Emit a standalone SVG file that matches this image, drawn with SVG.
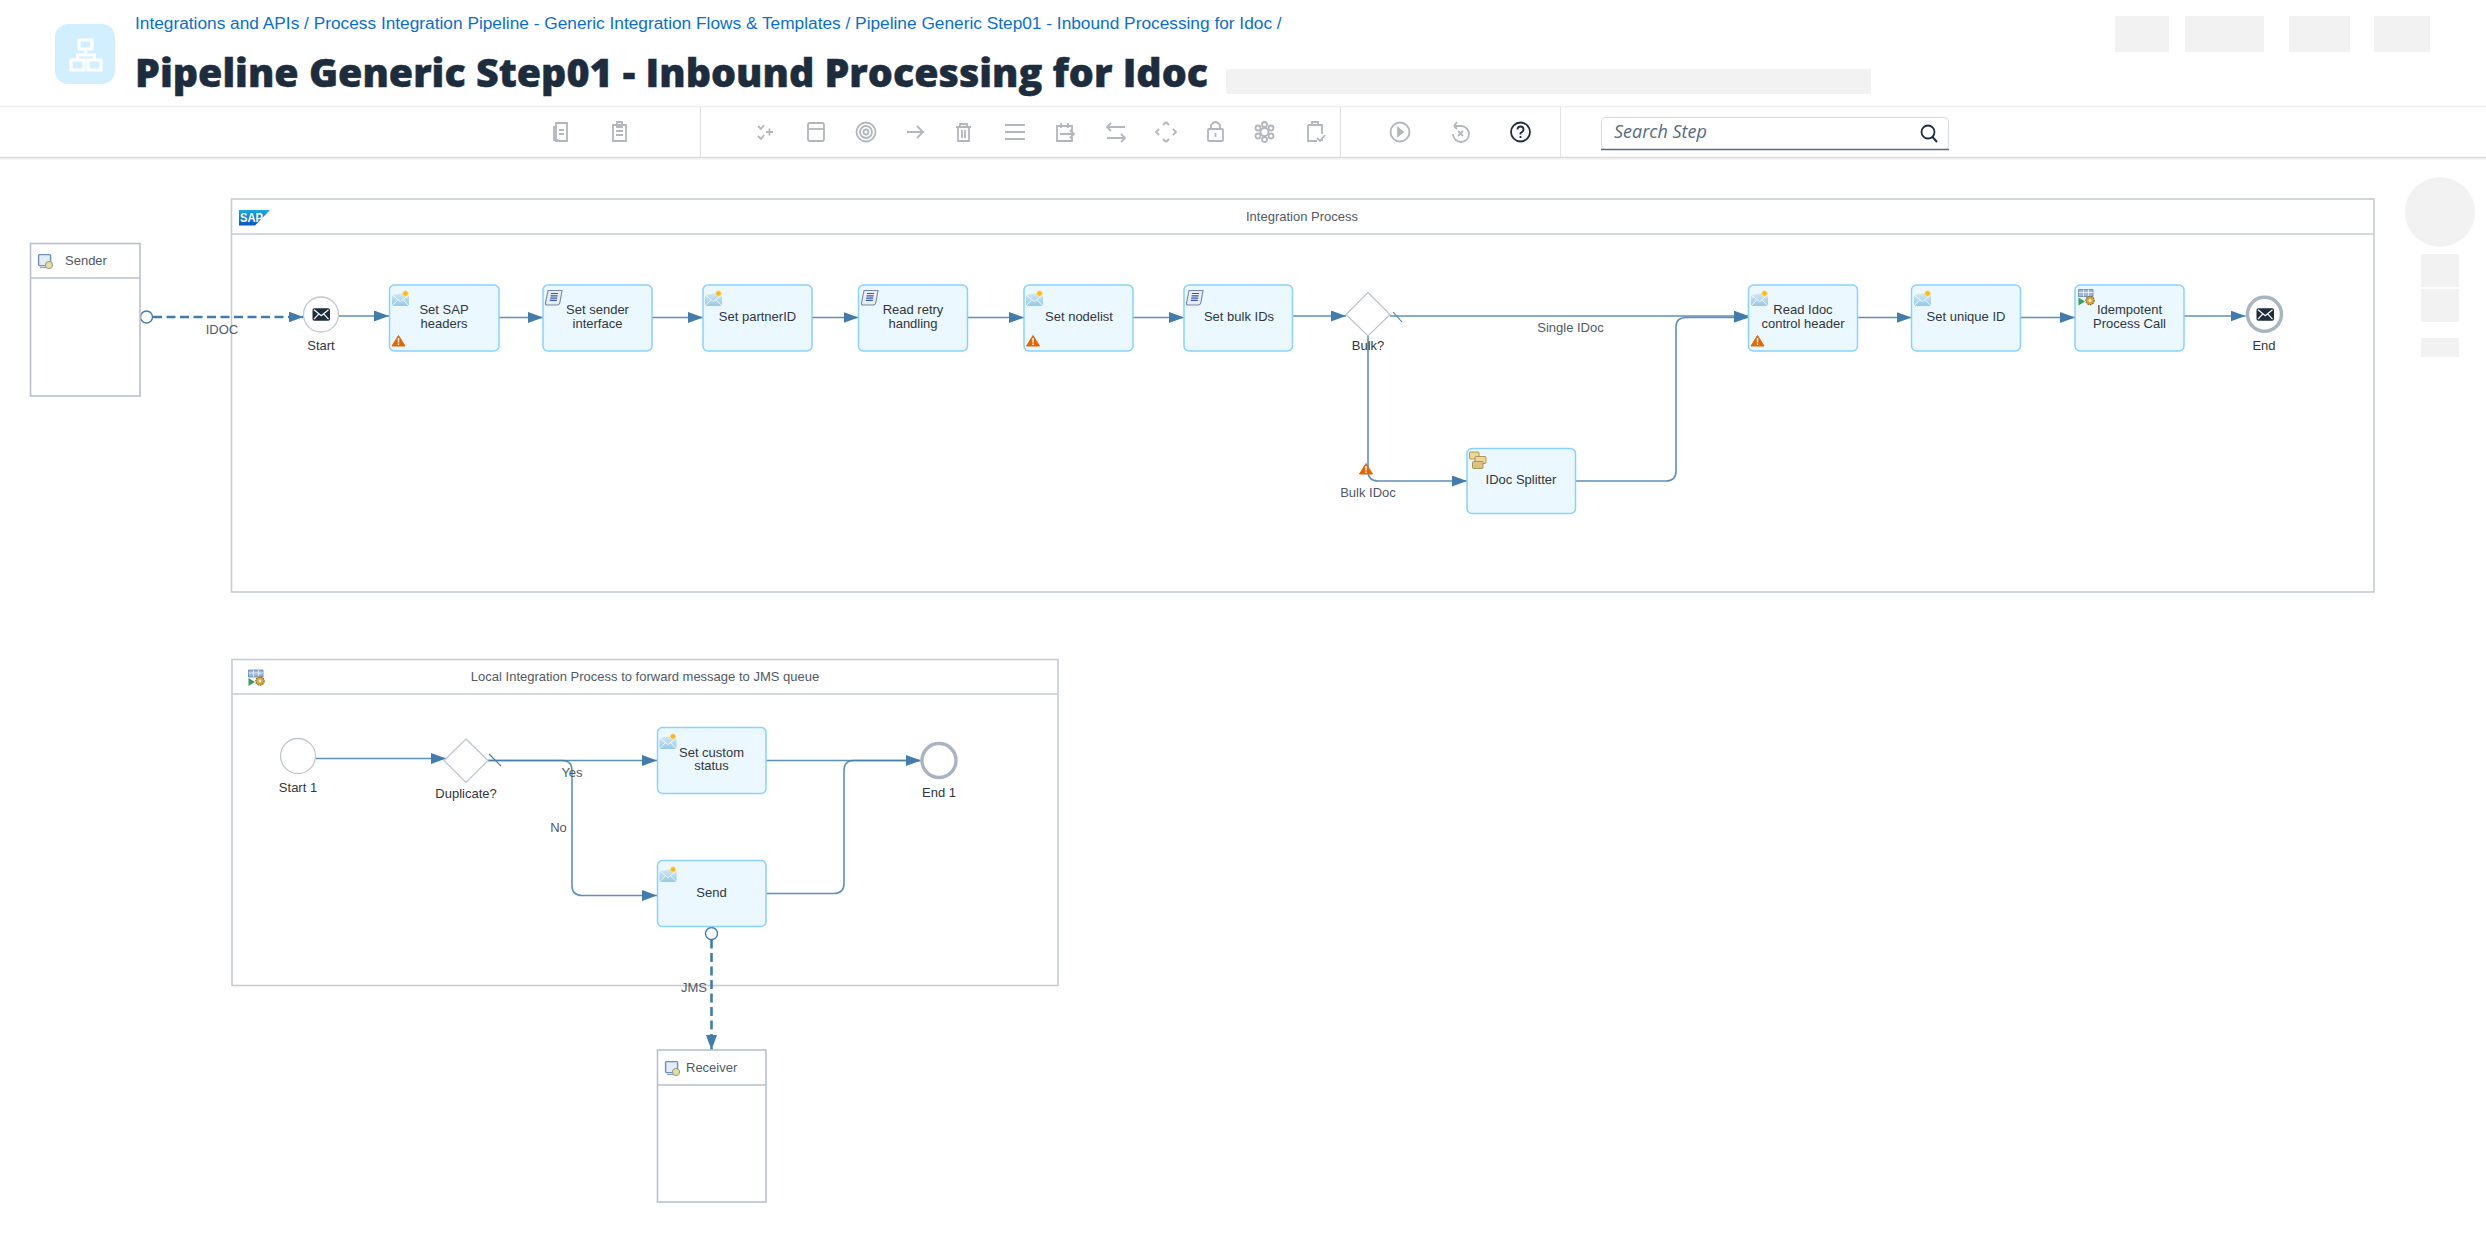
<svg xmlns="http://www.w3.org/2000/svg" width="2486" height="1240" viewBox="0 0 2486 1240">
<style>
text{font-family:"Liberation Sans",Arial,sans-serif;fill:#32363a;font-size:13px}
.m{text-anchor:middle}
.hd{fill:#4f5a65}
.lb{fill:#4f5a65}
.crumb{fill:#0a6ed1;font-size:17.3px}
.title{font-family:"Open Sans","Liberation Sans",sans-serif;font-weight:800;font-size:39.4px;fill:#1d2d3e;stroke:#1d2d3e;stroke-width:.5px}
.ph{fill:#f2f2f2}
.pool{fill:#fff;stroke:#c6ccd3;stroke-width:1.6}
.part{fill:#fff;stroke:#b8c1cb;stroke-width:1.6}
.task{fill:#ebf8ff;stroke:#89d1ff;stroke-width:1.5}
.flow{fill:none;stroke:#427cac;stroke-opacity:.85;stroke-width:1.6;marker-end:url(#arr)}
.plain{fill:none;stroke:#427cac;stroke-width:1.1}
.msg{fill:none;stroke:#427cac;stroke-width:2.6;stroke-dasharray:9 4.5;marker-end:url(#arr)}
.port{fill:#fff;stroke:#427cac;stroke-width:1.4}
.gw{fill:#fff;stroke:#bcc3ca;stroke-width:1.2}
.ev{fill:#fff;stroke:#c0c7ce;stroke-width:1.3}
.evend{fill:#fff;stroke:#a9b4be;stroke-width:3.4}
.tb{fill:none;stroke:#b2b7bc;stroke-width:1.8}
.sep{stroke:#dfe1e3;stroke-width:1}
</style>
<defs>
<marker id="arr" markerUnits="userSpaceOnUse" markerWidth="16" markerHeight="12" refX="15" refY="5.5" orient="auto"><path d="M0 0L15 5.5L0 11Z" fill="#427cac"/></marker>
<linearGradient id="envg" x1="0" y1="0" x2="0" y2="1"><stop offset="0" stop-color="#d4eaf8"/><stop offset="1" stop-color="#97c9e6"/></linearGradient>
<linearGradient id="sapg" x1="0" y1="0" x2="0" y2="1"><stop offset="0" stop-color="#18a9e8"/><stop offset="1" stop-color="#0a56b8"/></linearGradient>
<g id="i-env"><path d="M0 6L15 3.500L17 6V17H0Z" fill="url(#envg)"/><path d="M0 6L8.500 12.500L17 6M0 17L6 10.500M17 17L11 10.500" fill="none" stroke="#f2f9fd" stroke-width="1"/><circle cx="13.500" cy="4.500" r="2.800" fill="#fdb813" stroke="#f9e6a4" stroke-width="1"/></g>
<g id="i-script"><path d="M3 1.500H17L15 13Q14.500 16 12 16H2Q0 16 .6 13.500L3 1.500Z" fill="#e8edf5" stroke="#7488ac" stroke-width="1.100"/><path d="M6 4.500H13M5.600 6.800H12.600M5.200 9.100H12.200M4.800 11.400H11.800" stroke="#3658a6" stroke-width="1.200"/></g>
<g id="i-warn"><path d="M6.500 .5L13 11H0Z" fill="#e76500" stroke="#e76500" stroke-linejoin="round"/><path d="M6.500 3V7.500M6.500 8.600V10" stroke="#fff" stroke-width="1.500"/></g>
<g id="i-call"><path d="M0 0H14.500V7H0Z" fill="#9db8dc" stroke="#4f74ad" stroke-width=".7"/><path d="M0 3H14.500M5 0V7M10 0V7" stroke="#fff" stroke-width=".7"/><path d="M0 8L6.500 12L0 16Z" fill="#3c9a5f"/><circle cx="11.500" cy="11" r="4.200" fill="#d9a441" stroke="#8d6a20" stroke-width="1.200" stroke-dasharray="1.600 .9"/><circle cx="11.500" cy="11" r="1.400" fill="#fff6d8"/></g>
<g id="i-split"><rect x=".5" y=".5" width="9.500" height="7" rx="1" fill="#ecd795" stroke="#a68f4f" stroke-width=".9"/><rect x="6" y="5" width="11" height="7" rx="1" fill="#ecd795" stroke="#a68f4f" stroke-width=".9"/><rect x="3.500" y="10" width="10.500" height="7" rx="1" fill="#dcc27c" stroke="#a68f4f" stroke-width=".9"/></g>
<g id="i-part"><rect x=".6" y=".6" width="12" height="11" rx="1" fill="#e4ecf5" stroke="#6d8fb8" stroke-width="1.400"/><path d="M2 13.500H9" stroke="#8aa3bf" stroke-width="1.200"/><circle cx="11" cy="11" r="3.600" fill="#e9e08c" stroke="#8a9aa8" stroke-width="1"/></g>
<g id="i-mail"><rect x="0" y="0" width="17.500" height="12.500" rx="1.800" fill="#1d2d3e"/><path d="M1.500 1.500L8.750 7.500L16 1.500M1.500 11L6.300 5.700M16 11L11.200 5.700" fill="none" stroke="#fff" stroke-width="1.200"/></g>
</defs>
<rect width="2486" height="1240" fill="#fff"/>

<g id="header">
<rect x="55" y="24" width="60" height="60" rx="13" fill="#d1efff"/>
<path d="M79 40H92V49H79ZM71 60H84V70H71ZM88 60H101V70H88Z" fill="none" stroke="#fff" stroke-width="3.200"/>
<path d="M85.500 49V55M77.500 60V55H94.500V60" fill="none" stroke="#fff" stroke-width="3"/>
<text class="crumb" x="135" y="29">Integrations and APIs / Process Integration Pipeline - Generic Integration Flows &amp; Templates / Pipeline Generic Step01 - Inbound Processing for Idoc /</text>
<text class="title" x="135" y="87">Pipeline Generic Step01 - Inbound Processing for Idoc</text>
<rect class="ph" x="1226" y="69" width="645" height="25"/>
<rect class="ph" x="2115" y="16" width="54" height="36"/>
<rect class="ph" x="2185" y="16" width="79" height="36"/>
<rect class="ph" x="2289" y="16" width="61" height="36"/>
<rect class="ph" x="2374" y="16" width="56" height="36"/>
</g>

<g id="toolbar">
<path d="M0 106.500H2486" stroke="#eeeeee" stroke-width="1.500"/>
<path d="M0 157.500H2486" stroke="#d9d9d9" stroke-width="1.500"/>
<path d="M0 159H2486" stroke="#f0f0f0" stroke-width="1.500"/>
<path class="sep" d="M700.500 107V157M1340.500 107V157M1560.500 107V157"/>
<g class="tb">
<path d="M554 126V140H558M556 123H567V141H556ZM559 130H564M559 134H564"/>
<path d="M613 125H626V141H613ZM617 122H622V127H617ZM616 131H623M616 135H623"/>
<path d="M758 126L761 129L764 125M758 136L761 139L764 135M766 132H773M769.500 128.500V135.500"/>
<rect x="808" y="123" width="16" height="18" rx="2"/><path d="M808 129H824"/>
<circle cx="866" cy="132" r="9.500"/><circle cx="866" cy="132" r="6"/><circle cx="866" cy="132" r="2.500"/>
<path d="M907 132H923M917 126L923 132L917 138"/>
<path d="M956 127H971M960 127V124H967V127M958 127V141H969V127M962 130V138M965 130V138"/>
<path d="M1005 125H1025M1005 132H1025M1005 139H1025"/>
<path d="M1057 126H1072V141H1057ZM1061 123V128M1068 123V128M1060 134H1074M1070 130L1074 134L1070 138"/>
<path d="M1107 127H1125M1111 123L1107 127L1111 131M1107 138H1125M1121 134L1125 138L1121 142"/>
<path d="M1166 122L1169 125M1166 122L1163 125M1166 142L1169 139M1166 142L1163 139M1159 129L1156 132L1159 135M1173 129L1176 132L1173 135"/>
<rect x="1208" y="129" width="15" height="12" rx="1"/><path d="M1211 129V125Q1215.500 119 1220 125V129M1215.500 133V137"/>
<circle cx="1264.500" cy="132" r="4"/><circle cx="1264.500" cy="124.500" r="2.500"/><circle cx="1264.500" cy="139.500" r="2.500"/><circle cx="1258" cy="128" r="2.500"/><circle cx="1271" cy="128" r="2.500"/><circle cx="1258" cy="136" r="2.500"/><circle cx="1271" cy="136" r="2.500"/>
<path d="M1308 125H1322V134M1322 139V141M1308 125V141H1317M1312 125V122H1318V125M1317 138L1320 141L1325 135"/>
<circle cx="1400" cy="132" r="9.500"/><path d="M1398 128L1403 132L1398 136Z" fill="#b2b7bc"/>
<path d="M1454 126H1461A8 8 0 1 1 1453 134M1454 126L1457 122M1454 126L1457 129M1458 131L1463 136M1463 131L1458 136"/>
</g>
<g fill="none" stroke="#1d2d3e" stroke-width="1.800">
<circle cx="1520.500" cy="132" r="9.500"/>
<path d="M1517.500 129.500Q1517.500 126.500 1520.500 126.500Q1523.500 126.500 1523.500 129.500Q1523.500 131.500 1520.500 133V134.500M1520.500 136V138"/>
</g>
<rect x="1601.500" y="117.500" width="347" height="32" rx="4" fill="#fff" stroke="#d5dadd"/>
<path d="M1601 149.500H1949" stroke="#556b82" stroke-width="1.500"/>
<text x="1614" y="138" style="font-family:'Open Sans','Liberation Sans',sans-serif;font-style:italic;font-size:18px;fill:#556b82">Search Step</text>
<circle cx="1928" cy="132" r="6.500" fill="none" stroke="#1d2d3e" stroke-width="1.800"/><path d="M1932.500 137L1937 142" stroke="#1d2d3e" stroke-width="2"/>
</g>

<g id="side-placeholders">
<circle class="ph" cx="2440" cy="212" r="35"/>
<rect class="ph" x="2421" y="254" width="38" height="33"/>
<rect class="ph" x="2421" y="289" width="38" height="33"/>
<rect class="ph" x="2421" y="338" width="38" height="19"/>
</g>

<g id="pool-main">
<rect class="pool" x="231.500" y="199" width="2142.500" height="393"/>
<path class="pool" d="M231.500 234H2374"/>
<path d="M239 210H270L255 225.500H239Z" fill="url(#sapg)"/>
<text x="240" y="222" textLength="23" lengthAdjust="spacingAndGlyphs" style="font-size:13px;font-weight:bold;fill:#fff">SAP</text>
<text class="hd m" x="1302" y="221">Integration Process</text>
</g>
<g id="pool-local">
<rect class="pool" x="232" y="659.500" width="826" height="326"/>
<path class="pool" d="M232 694H1058"/>
<use href="#i-call" x="248.500" y="670"/>
<text class="hd m" x="645" y="681">Local Integration Process to forward message to JMS queue</text>
</g>

<g id="connectors">
<path class="flow" d="M339 316H389"/>
<path class="flow" d="M499 317.500H543"/>
<path class="flow" d="M652 317.500H703"/>
<path class="flow" d="M812 317.500H858.500"/>
<path class="flow" d="M967.500 317.500H1024"/>
<path class="flow" d="M1133 317.500H1184"/>
<path class="flow" d="M1292.500 316H1346"/>
<path class="flow" d="M1390 316H1748.500"/>
<path class="plain" d="M1393 312L1402 322"/>
<path class="flow" d="M1368 336V471Q1368 481 1378 481H1467"/>
<path class="flow" d="M1575.500 481H1666Q1676 481 1676 471V327Q1676 317.500 1686 317.500H1748.500"/>
<path class="flow" d="M1858 317.500H1911.500"/>
<path class="flow" d="M2021 317.500H2075"/>
<path class="flow" d="M2184 316H2245.500"/>
<path class="flow" d="M316 758.500H446"/>
<path class="plain" d="M489 754L501 766"/>
<path class="flow" d="M488 760.500H657"/>
<path class="flow" d="M488 760.500H562Q572 760.500 572 770.500V885.500Q572 895.500 582 895.500H657"/>
<path class="flow" d="M766 760.500H920.500"/>
<path class="flow" d="M766 893.500H834Q844 893.500 844 883.500V770.500Q844 760.500 854 760.500H920.500"/>
<path class="msg" d="M153 317H303.500"/>
<circle class="port" cx="146.500" cy="317" r="6"/>
<path class="msg" d="M711.500 939.500V1050"/>
<circle class="port" cx="711.500" cy="933.500" r="6"/>
</g>

<g id="sender"><rect class="part" x="30.500" y="243.500" width="109.500" height="152.500"/><path class="part" d="M30.500 278H140"/><use href="#i-part" x="38" y="254"/><text class="hd" x="65" y="265">Sender</text></g>
<g id="receiver"><rect class="part" x="657.500" y="1050" width="108.500" height="152"/><path class="part" d="M657.500 1085H766"/><use href="#i-part" x="665" y="1061"/><text class="hd" x="686" y="1072">Receiver</text></g>

<g id="start"><circle class="ev" cx="321" cy="314.500" r="17.500"/><use href="#i-mail" x="312.500" y="308.200"/><text class="m" x="321" y="350">Start</text></g>
<g id="set-sap-headers"><rect class="task" x="389.500" y="285" width="109.500" height="66" rx="5"/><use href="#i-env" x="392" y="289"/><use href="#i-warn" x="392" y="335"/><text class="m" x="444" y="314">Set SAP</text><text class="m" x="444" y="328">headers</text></g>
<g id="set-sender-interface"><rect class="task" x="543" y="285" width="109" height="66" rx="5"/><use href="#i-script" x="545" y="289"/><text class="m" x="597.500" y="314">Set sender</text><text class="m" x="597.500" y="328">interface</text></g>
<g id="set-partnerid"><rect class="task" x="703" y="285" width="109" height="66" rx="5"/><use href="#i-env" x="705" y="289"/><text class="m" x="757.500" y="321">Set partnerID</text></g>
<g id="read-retry-handling"><rect class="task" x="858.500" y="285" width="109" height="66" rx="5"/><use href="#i-script" x="861" y="289"/><text class="m" x="913" y="314">Read retry</text><text class="m" x="913" y="328">handling</text></g>
<g id="set-nodelist"><rect class="task" x="1024" y="285" width="109" height="66" rx="5"/><use href="#i-env" x="1026" y="289"/><use href="#i-warn" x="1026.500" y="335"/><text class="m" x="1079" y="321">Set nodelist</text></g>
<g id="set-bulk-ids"><rect class="task" x="1184" y="285" width="108.500" height="66" rx="5"/><use href="#i-script" x="1186" y="289"/><text class="m" x="1239" y="321">Set bulk IDs</text></g>
<g id="bulk"><path class="gw" d="M1368 292.500L1390 314.500L1368 336L1346 314.500Z"/><text class="m" x="1368" y="350">Bulk?</text></g>
<g id="idoc-splitter"><rect class="task" x="1467" y="448.500" width="108.500" height="65" rx="5"/><use href="#i-split" x="1469" y="451.500"/><text class="m" x="1521" y="484">IDoc Splitter</text></g>
<g id="read-idoc-control-header"><rect class="task" x="1748.500" y="285" width="109" height="66" rx="5"/><use href="#i-env" x="1751" y="289"/><use href="#i-warn" x="1751" y="335"/><text class="m" x="1803" y="314">Read Idoc</text><text class="m" x="1803" y="328">control header</text></g>
<g id="set-unique-id"><rect class="task" x="1911.500" y="285" width="109" height="66" rx="5"/><use href="#i-env" x="1914" y="289"/><text class="m" x="1966" y="321">Set unique ID</text></g>
<g id="idempotent-process-call"><rect class="task" x="2075" y="285" width="109" height="66" rx="5"/><use href="#i-call" x="2078.500" y="289.500"/><text class="m" x="2129.500" y="314">Idempotent</text><text class="m" x="2129.500" y="328">Process Call</text></g>
<g id="end"><circle class="evend" cx="2264.500" cy="314.300" r="17"/><use href="#i-mail" x="2256.500" y="308.200"/><text class="m" x="2264" y="350">End</text></g>

<g id="start-1"><circle class="ev" cx="298" cy="756" r="17.500"/><text class="m" x="298" y="792">Start 1</text></g>
<g id="duplicate"><path class="gw" d="M466 739L488 760.500L466 782.500L444 760.500Z"/><text class="m" x="466" y="798">Duplicate?</text></g>
<g id="set-custom-status"><rect class="task" x="657.500" y="727.500" width="108.500" height="66" rx="5"/><use href="#i-env" x="659.500" y="732"/><text class="m" x="711.500" y="757">Set custom</text><text class="m" x="711.500" y="770">status</text></g>
<g id="send"><rect class="task" x="657.500" y="860.500" width="108.500" height="66" rx="5"/><use href="#i-env" x="659.500" y="865"/><text class="m" x="711.500" y="897">Send</text></g>
<g id="end-1"><circle class="evend" cx="939" cy="760.500" r="17"/><text class="m" x="939" y="797">End 1</text></g>

<g id="connector-labels">
<text class="lb m" x="222" y="334">IDOC</text>
<use href="#i-warn" x="1359.500" y="463"/>
<text class="lb m" x="1368" y="497">Bulk IDoc</text>
<text class="lb m" x="1570.500" y="332">Single IDoc</text>
<text class="lb m" x="572" y="777">Yes</text>
<text class="lb m" x="558.500" y="832">No</text>
<text class="lb m" x="694" y="992">JMS</text>
</g>
</svg>
